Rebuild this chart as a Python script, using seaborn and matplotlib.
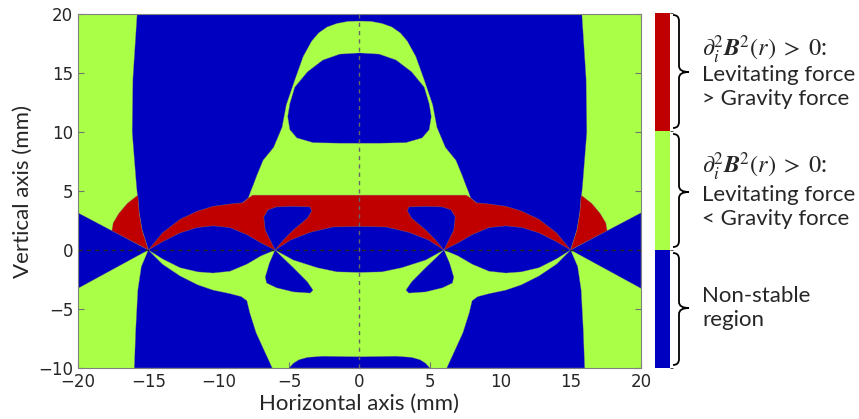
import matplotlib
matplotlib.use("Agg")
import matplotlib.pyplot as plt
import matplotlib.cm as cm
from matplotlib.colors import ListedColormap, BoundaryNorm
from matplotlib.path import Path
from matplotlib.patches import PathPatch
import seaborn as sns

# ---------------------------------------------------------
# colours of the three stability classes
# ---------------------------------------------------------
BLUE = '#0000c0'
GREEN = '#aaff47'
RED = '#c00000'

# ---------------------------------------------------------
# region outlines (mm), right half only (x >= 0),
# the map is mirror symmetric about x = 0
# ---------------------------------------------------------
# outer edge of the tall blue column, top -> saddle point (15, 0)
col_up_x = [15.8, 16.1, 16.15, 15.85, 15.65, 15.45, 15.0]
col_up_y = [20.0, 14.5, 10.0, 5.5, 3.1, 1.7, 0.0]

# outer edge of the green arch, top -> foot on the red band
arch_x = [0.0, 0.8, 1.6, 2.3, 2.9, 3.4, 4.0, 4.6, 5.2, 5.5, 6.1, 6.85, 7.3, 7.55, 7.75, 7.9, 8.3]
arch_y = [19.4, 19.38, 19.2, 18.9, 18.4, 17.7, 16.4, 14.4, 12.3, 10.4, 8.7, 7.6, 6.3, 5.5, 4.9, 4.4, 4.0]

# blue "egg" inside the arch
egg_x = [0.0, 1.4, 2.6, 3.7, 4.6, 4.95, 5.1, 4.95, 4.45, 3.3, 1.4, 0.0]
egg_y = [16.7, 16.6, 16.1, 15.1, 13.8, 12.4, 11.3, 10.2, 9.5, 9.1, 9.05, 9.05]

# top of the red band
band_x = [0.0, 7.6, 7.9, 8.3, 9.2, 10.4, 11.5, 12.75, 14.0, 15.0]
band_y = [4.65, 4.65, 4.4, 4.0, 3.9, 3.7, 3.3, 2.6, 1.45, 0.0]

# blue lens between the saddle points x = 6 and x = 15
lens_x = [6.0, 7.0, 8.0, 9.2, 10.4, 11.55, 12.75, 14.0, 15.0,
          14.0, 12.75, 11.5, 10.4, 9.2, 8.0, 7.0]
lens_y = [0.0, 0.6, 1.3, 1.9, 2.05, 1.9, 1.45, 0.7, 0.0,
          -0.75, -1.5, -1.85, -1.95, -1.8, -1.2, -0.5]

# central blue blob between x = -6 and x = 6
blob_x = [0.0, 1.9, 3.5, 4.9, 6.0, 4.7, 3.0, 1.6, 0.0]
blob_y = [2.0, 1.95, 1.5, 0.85, 0.0, -0.85, -1.5, -1.85, -1.9]

# blue petals at the saddle point x = 6
petal_up_x = [6.0, 6.7, 6.8, 6.5, 5.9, 4.7, 3.5, 3.4, 3.7, 4.7, 5.4]
petal_up_y = [0.0, 1.7, 2.8, 3.4, 3.65, 3.7, 3.65, 3.3, 2.7, 1.7, 0.85]
petal_lo_x = [6.0, 6.4, 6.7, 6.6, 5.9, 4.7, 3.5, 3.3, 3.7, 4.7, 5.4]
petal_lo_y = [0.0, -1.1, -2.3, -2.8, -3.2, -3.55, -3.65, -3.4, -2.7, -1.5, -0.7]

# lower blue column
col_lo_x = [15.0, 14.0, 12.75, 11.5, 10.4, 9.2, 8.4, 8.0, 7.8, 7.35, 6.7, 6.2,
            16.0, 15.9, 15.75, 15.5]
col_lo_y = [0.0, -1.2, -2.2, -2.95, -3.4, -3.7, -3.95, -4.3, -5.3, -7.0, -8.7, -10.0,
            -10.0, -6.8, -3.4, -1.4]

# blue wedge at the outer edge
wedge_x = [15.0, 20.0, 20.0]
wedge_y = [0.0, 3.15, -3.25]

# small red region outside the column
side_x = [15.0, 17.6, 17.5, 17.1, 16.5, 15.75, 15.65, 15.45]
side_y = [0.0, 1.6, 2.3, 3.1, 3.95, 4.65, 3.1, 1.7]

# blue strip at the bottom centre
bot_x = [0.0, 2.6, 3.7, 4.3, 4.7, 5.0, 0.0]
bot_y = [-9.05, -9.0, -9.1, -9.3, -9.6, -10.0, -10.0]

math_label = r'$\partial_i^2\mathbfit{B}^2(r)\;>\;0$:'
labels = ['Levitating force\n> Gravity force',
          'Levitating force\n< Gravity force',
          'Non-stable\nregion']


def whole(xr, yr):
    # right half outline (starting and ending on x = 0) -> full outline
    xs = list(xr) + [-x for x in xr[::-1]]
    ys = list(yr) + list(yr[::-1])
    return xs, ys


def both_sides(ax, xr, yr, color):
    ax.fill(xr, yr, color=color, ec=(0.5, 0.5, 0.5, 0.6), lw=0.4)
    ax.fill([-x for x in xr], yr, color=color, ec=(0.5, 0.5, 0.5, 0.6), lw=0.4)


def centre(ax, xr, yr, color):
    xs, ys = whole(xr, yr)
    ax.fill(xs, ys, color=color, ec=(0.5, 0.5, 0.5, 0.6), lw=0.4)


sns.set_style("white")
plt.rcParams['font.family'] = ['DejaVu Sans']
plt.rcParams['mathtext.fontset'] = 'stix'

fig = plt.figure(figsize=(8.59, 4.19), dpi=100)
ax = fig.add_axes([78 / 859, 51 / 419, 563 / 859, 354 / 419])
ax.set_facecolor(GREEN)

centre(ax, [0.0] + col_up_x + [0.0], [20.0] + col_up_y + [0.0], BLUE)
centre(ax, arch_x + [8.3, 0.0], arch_y + [0.0, 0.0], GREEN)
centre(ax, band_x + [0.0], band_y + [0.0], RED)
centre(ax, egg_x, egg_y, BLUE)
both_sides(ax, side_x, side_y, RED)
both_sides(ax, wedge_x, wedge_y, BLUE)
both_sides(ax, col_lo_x, col_lo_y, BLUE)
both_sides(ax, lens_x, lens_y, BLUE)
centre(ax, blob_x, blob_y, BLUE)
both_sides(ax, petal_up_x, petal_up_y, BLUE)
both_sides(ax, petal_lo_x, petal_lo_y, BLUE)
centre(ax, bot_x, bot_y, BLUE)

ax.axvline(0, color='0.4', ls=(0, (3, 3)), lw=1)
ax.axhline(0, color='0.15', ls=(0, (3, 3)), lw=1)

ax.set_xlim(-20, 20)
ax.set_ylim(-10, 20)
ax.set_xticks(range(-20, 21, 5))
ax.set_yticks(range(-10, 21, 5))
ax.tick_params(direction='in', length=4, color='0.45', labelsize=12,
               top=True, right=True, bottom=True, left=True)
for s in ax.spines.values():
    s.set_color('0.5')
    s.set_linewidth(0.8)
ax.set_xlabel('Horizontal axis (mm)', family='Lato', fontsize=16, labelpad=2)
ax.set_ylabel('Vertical axis (mm)', family='Lato', fontsize=16, labelpad=4)

# colour bar with the three classes
cax = fig.add_axes([655 / 859, 51 / 419, 15 / 859, 355 / 419])
cmap = ListedColormap([BLUE, GREEN, RED])
norm = BoundaryNorm([0, 1, 2, 3], cmap.N)
cb = fig.colorbar(cm.ScalarMappable(norm=norm, cmap=cmap), cax=cax, ticks=[])
cb.outline.set_visible(False)


def brace(ytop, ybot, ymid):
    # curly brace in pixel coordinates (y measured from the top)
    x0, xm, xt, r = 673, 679, 689, 6
    pts = [(x0, ytop), (xm, ytop), (xm, ytop + r), (xm, ymid - r),
           (xm, ymid), (xt, ymid), (xm, ymid), (xm, ymid + r),
           (xm, ybot - r), (xm, ybot), (x0, ybot)]
    codes = [Path.MOVETO, Path.CURVE3, Path.CURVE3, Path.LINETO,
             Path.CURVE3, Path.CURVE3, Path.CURVE3, Path.CURVE3,
             Path.LINETO, Path.CURVE3, Path.CURVE3]
    pts = [(x / 100, (419 - y) / 100) for x, y in pts]
    fig.patches.append(PathPatch(Path(pts, codes), fc='none', ec='black', lw=1.3,
                                 transform=fig.dpi_scale_trans))


brace_top = [15, 134, 253]
brace_bot = [128, 247, 365]
brace_mid = [72, 192, 308]
math_mid = [50, 167]
text_mid = [87, 207, 308]
for i in range(3):
    brace(brace_top[i], brace_bot[i], brace_mid[i])
    fig.text(702 / 859, 1 - text_mid[i] / 419, labels[i], family='Lato', fontsize=16,
             va='center', ha='left', linespacing=1.3)
for i in range(2):
    fig.text(702 / 859, 1 - math_mid[i] / 419, math_label, family='Lato', fontsize=17.5,
             va='center', ha='left')

plt.savefig('out.png', dpi=100)
